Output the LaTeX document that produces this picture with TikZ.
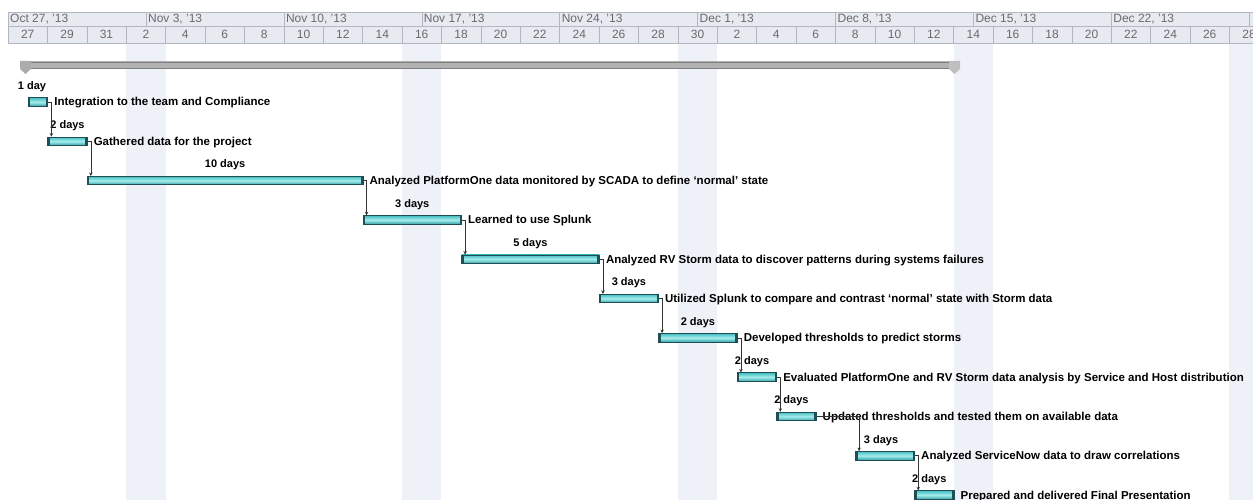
\documentclass[tikz,border=0pt]{standalone}
\usepackage{fontspec}
\setmainfont{Liberation Sans}
\usetikzlibrary{arrows.meta,positioning}

\definecolor{barTop}{HTML}{44BEC1}
\definecolor{barMid}{HTML}{A6EDED}
\definecolor{barBot}{HTML}{33A3A8}
\definecolor{barEdge}{HTML}{1F4F55}
\definecolor{hdrFill}{HTML}{E8EAF2}
\definecolor{hdrLine}{HTML}{B4B7C2}
\definecolor{hdrText}{HTML}{6A6A6A}
\definecolor{bandFill}{HTML}{EEF1F7}

\tikzset{
  bar/.style={draw=barEdge, line width=0.8pt, top color=barTop, bottom color=barBot,
    middle color=barMid, minimum height=8.5pt, inner sep=0pt, anchor=west,
    path picture={
      \fill[barEdge] (path picture bounding box.south west) rectangle ([xshift=2pt]path picture bounding box.north west);
      \fill[barEdge] ([xshift=-2pt]path picture bounding box.south east) rectangle (path picture bounding box.north east);
    }},
  durlabel/.style={font=\fontsize{11}{12}\selectfont\bfseries, inner sep=0pt, anchor=base},
  tasklabel/.style={font=\fontsize{11.5}{12}\selectfont\bfseries, inner sep=0pt, anchor=base west},
  link/.style={draw=black!80, line width=0.6pt, -{Stealth[length=3.5pt,width=3.5pt]}},
  hdrtext/.style={font=\fontsize{12}{13}\selectfont, text=hdrText, inner sep=0pt},
}

\newcommand{\DayWidth}{19.7}
\newcommand{\RowHeight}{39.3}
\newcommand{\GanttBar}[7]{
  \coordinate (#1s) at (\fpeval{8+\DayWidth*#2},\fpeval{102+\RowHeight*(#4-1)});
  \node[bar, minimum width=\fpeval{\DayWidth*(#3-#2)}pt] (#1) at (#1s) {};
  \node[durlabel] (#1d) at ([xshift=#6pt,yshift=8pt]#1.north) {#5};
  \node[tasklabel] (#1t) at ([xshift=6pt,yshift=-4pt]#1.east) {#7};
}

\begin{document}
\begin{tikzpicture}[x=1pt,y=-1pt]
  \useasboundingbox (0,0) rectangle (1253,500);

  % nonworking time
  \foreach \d in {6,20,34,48,62}
    \fill[bandFill] (\fpeval{8+\DayWidth*\d},43) rectangle (\fpeval{8+\DayWidth*(\d+2)},500);

  % timescale
  \fill[hdrFill] (8,12) rectangle (1253,43);
  \draw[hdrLine] (8,12) -- (1253,12) (8,26) -- (1253,26) (8,43) -- (1253,43);
  \foreach \w [count=\i from 0] in {{Oct 27, '13},{Nov 3, '13},{Nov 10, '13},{Nov 17, '13},{Nov 24, '13},{Dec 1, '13},{Dec 8, '13},{Dec 15, '13},{Dec 22, '13}} {
    \draw[hdrLine] (\fpeval{8+7*\DayWidth*\i},12) -- ++(0,14);
    \node[hdrtext, anchor=west] (W\i) at (\fpeval{10+7*\DayWidth*\i},19) {\w};
  }
  \draw[hdrLine] (\fpeval{8+63*\DayWidth},12) -- ++(0,14);
  \foreach \n [count=\i from 0] in {27,29,31,2,4,6,8,10,12,14,16,18,20,22,24,26,28,30,2,4,6,8,10,12,14,16,18,20,22,24,26,28} {
    \draw[hdrLine] (\fpeval{8+2*\DayWidth*\i},26) -- ++(0,17);
    \node[hdrtext] (D\i) at (\fpeval{8+2*\DayWidth*(\i+0.5)},34.5) {\n};
  }

  % project summary
  \fill[top color=gray!60, middle color=gray!12, bottom color=gray!60] (22,62) rectangle (958,68);
  \draw[gray, line width=0.4pt] (22,62) rectangle (958,68);
  \fill[gray!65] (20,61) -- (31,61) -- (31,69) -- (25.5,74) -- (20,69) -- cycle;
  \fill[gray!50] (949,61) -- (960,61) -- (960,69) -- (954.5,74) -- (949,69) -- cycle;

  % tasks
  \GanttBar{T1}{1}{2}{1}{1 day}{-6}{Integration to the team and Compliance}
  \GanttBar{T2}{2}{4}{2}{2 days}{0}{Gathered data for the project}
  \GanttBar{T3}{4}{18}{3}{10 days}{0}{Analyzed PlatformOne data monitored by SCADA to define `normal' state}
  \GanttBar{T4}{18}{23}{4}{3 days}{0}{Learned to use Splunk}
  \GanttBar{T5}{23}{30}{5}{5 days}{0}{Analyzed RV Storm data to discover patterns during systems failures}
  \GanttBar{T6}{30}{33}{6}{3 days}{0}{Utilized Splunk to compare and contrast `normal' state with Storm data}
  \GanttBar{T7}{33}{37}{7}{2 days}{0}{Developed thresholds to predict storms}
  \GanttBar{T8}{37}{39}{8}{2 days}{-5}{Evaluated PlatformOne and RV Storm data analysis by Service and Host distribution}
  \GanttBar{T9}{39}{41}{9}{2 days}{-5}{Updated thresholds and tested them on available data}
  \GanttBar{T10}{43}{46}{10}{3 days}{-4}{Analyzed ServiceNow data to draw correlations}
  \GanttBar{T11}{46}{48}{11}{2 days}{-5}{Prepared and delivered Final Presentation}

  % finish-to-start links
  \foreach \a/\b in {T1/T2,T2/T3,T3/T4,T4/T5,T5/T6,T6/T7,T7/T8,T8/T9,T9/T10,T10/T11}
    \draw[link] (\a.east) -| ([xshift=4pt]\b.north west);
\end{tikzpicture}
\end{document}
